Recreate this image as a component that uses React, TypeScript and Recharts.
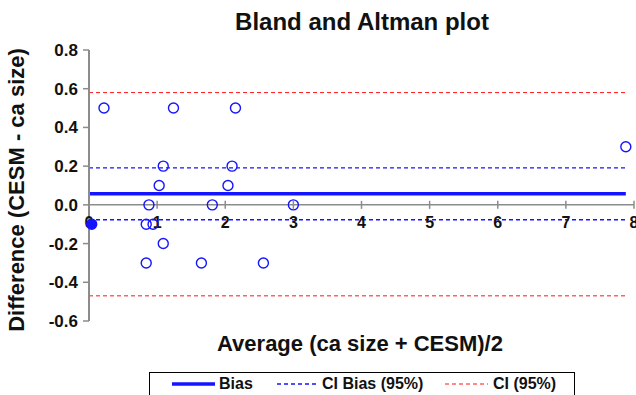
import { ComposedChart, Scatter, XAxis, YAxis, ReferenceLine, ReferenceDot } from 'recharts';

// averages (x) and differences (y)
const averages = [0.22, 0.84, 0.94, 0.84, 0.88, 1.03, 1.09, 1.09, 1.24, 1.65, 1.81, 2.04, 2.1, 2.15, 2.56, 3.0, 7.88];
const differences = [0.5, -0.1, -0.1, -0.3, 0.0, 0.1, 0.2, -0.2, 0.5, -0.3, 0.0, 0.1, 0.2, 0.5, -0.3, 0.0, 0.3];
const filledAverages = [0.04];
const filledDifferences = [-0.1];

const bias = 0.057;
const ciBias = [-0.077, 0.191];
const ci = [-0.47, 0.58];

const xTicks = [0, 1, 2, 3, 4, 5, 6, 7, 8];
const yTicks = [-0.6, -0.4, -0.2, 0.0, 0.2, 0.4, 0.6, 0.8];

const FONT = '"Liberation Sans", Arial, sans-serif';
const BLUE = '#1414ff';
const RED = '#ff1414';
const AXIS = '#8c8c8c';

const points = averages.map((x, i) => ({ x, y: differences[i] }));
const filled = filledAverages.map((x, i) => ({ x, y: filledDifferences[i] }));
const lineEnd = Math.max(...averages);

function YTick(props: any) {
  const { x, y, payload } = props;
  return (
    <g>
      <line x1={x - 6} x2={x} y1={y} y2={y} stroke={AXIS} strokeWidth={1.5} />
      <text x={x - 11} y={y} dy={6} textAnchor="end" fontFamily={FONT} fontWeight="bold" fontSize={17} fill="#111">
        {Number(payload.value).toFixed(1)}
      </text>
    </g>
  );
}

function XTickMark(label: number) {
  return (props: any) => {
    const { cx, cy } = props;
    return (
      <g>
        <line x1={cx} x2={cx} y1={cy - 4} y2={cy + 4} stroke={AXIS} strokeWidth={1.5} />
        <text x={cx} y={cy + 23} textAnchor="middle" fontFamily={FONT} fontWeight="bold" fontSize={16} fill="#111">
          {label}
        </text>
      </g>
    );
  };
}

function OpenCircle(props: any) {
  const { cx, cy } = props;
  return <circle cx={cx} cy={cy} r={5} fill="none" stroke={BLUE} strokeWidth={1.4} />;
}

function FilledCircle(props: any) {
  const { cx, cy } = props;
  return <circle cx={cx} cy={cy} r={5} fill={BLUE} stroke={BLUE} strokeWidth={1.4} />;
}

const seg = (y: number) => [
  { x: 0, y },
  { x: lineEnd, y },
];

export default function App() {
  return (
    <div style={{ position: 'fixed', left: 0, top: 0, width: 636, height: 395, background: '#fff', overflow: 'hidden', fontFamily: FONT, color: '#111' }}>
      <div style={{ position: 'absolute', left: 362, top: 22, transform: 'translate(-50%, -50%)', whiteSpace: 'nowrap', fontWeight: 'bold', fontSize: 24 }}>
        Bland and Altman plot
      </div>
      <div
        style={{
          position: 'absolute',
          left: 17,
          top: 190,
          transform: 'translate(-50%, -50%) rotate(-90deg)',
          whiteSpace: 'nowrap',
          fontWeight: 'bold',
          fontSize: 22,
        }}
      >
        Difference (CESM - ca size)
      </div>
      <div style={{ position: 'absolute', left: 360, top: 344, transform: 'translate(-50%, -50%)', whiteSpace: 'nowrap', fontWeight: 'bold', fontSize: 22 }}>
        Average (ca size + CESM)/2
      </div>

      <div style={{ position: 'absolute', left: 0, top: 0 }}>
        <ComposedChart width={636} height={395} margin={{ top: 50, right: 2, bottom: 74, left: 29 }}>
          <XAxis type="number" dataKey="x" domain={[0, 8]} ticks={xTicks} hide />
          <YAxis
            type="number"
            dataKey="y"
            domain={[-0.6, 0.8]}
            ticks={yTicks}
            width={60}
            tickSize={0}
            tickMargin={0}
            tickLine={false}
            axisLine={{ stroke: AXIS, strokeWidth: 2 }}
            tick={<YTick />}
            interval={0}
          />
          <ReferenceLine y={0} stroke={AXIS} strokeWidth={1.5} />
          {xTicks.map((t) => (
            <ReferenceDot key={t} x={t} y={0} r={0} shape={XTickMark(t)} />
          ))}
          <ReferenceLine segment={seg(ci[1])} stroke={RED} strokeWidth={1} strokeDasharray="4 3" />
          <ReferenceLine segment={seg(ci[0])} stroke={RED} strokeWidth={1} strokeDasharray="4 3" />
          <ReferenceLine segment={seg(ciBias[1])} stroke={BLUE} strokeWidth={1.4} strokeDasharray="4 3" />
          <ReferenceLine segment={seg(ciBias[0])} stroke={BLUE} strokeWidth={1.4} strokeDasharray="4 3" />
          <ReferenceLine segment={seg(bias)} stroke={BLUE} strokeWidth={3.5} />
          <Scatter data={points} shape={<OpenCircle />} isAnimationActive={false} />
          <Scatter data={filled} shape={<FilledCircle />} isAnimationActive={false} />
        </ComposedChart>
      </div>

      <div style={{ position: 'absolute', left: 149, top: 372, width: 426, height: 40, border: '1.5px solid #000', boxSizing: 'border-box' }} />
      <svg style={{ position: 'absolute', left: 0, top: 372 }} width={636} height={23}>
        <line x1={172} x2={215} y1={12} y2={12} stroke={BLUE} strokeWidth={3.5} />
        <text x={219} y={17} fontFamily={FONT} fontWeight="bold" fontSize={16} fill="#111">Bias</text>
        <line x1={277} x2={318} y1={12} y2={12} stroke={BLUE} strokeWidth={1.4} strokeDasharray="4 3" />
        <text x={322} y={17} fontFamily={FONT} fontWeight="bold" fontSize={16} fill="#111">CI Bias (95%)</text>
        <line x1={445} x2={488} y1={12} y2={12} stroke={RED} strokeWidth={1} strokeDasharray="4 3" />
        <text x={493} y={17} fontFamily={FONT} fontWeight="bold" fontSize={16} fill="#111">CI (95%)</text>
      </svg>
    </div>
  );
}
